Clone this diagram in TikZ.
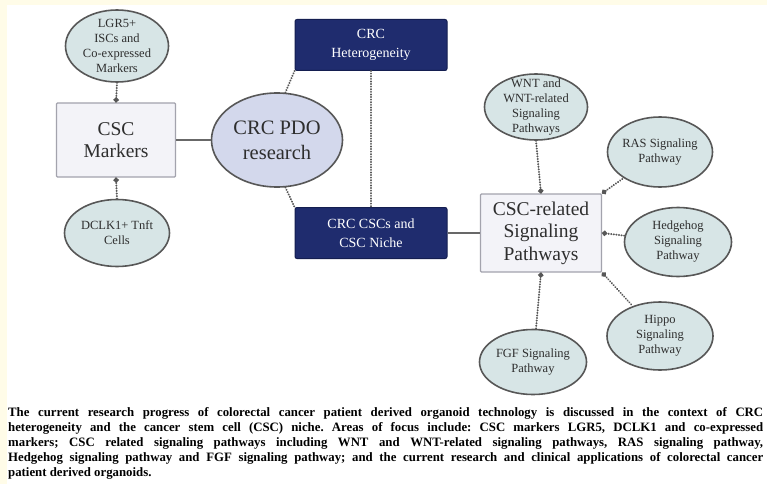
\documentclass[tikz,border=0pt]{standalone}
\usepackage{fontspec}
\setmainfont{Liberation Serif}
\usepackage{xcolor}
\usepackage{tikz}
\usetikzlibrary{shapes.geometric,arrows.meta}
\definecolor{cream}{HTML}{FFFCE8}
\definecolor{pathfill}{HTML}{D7E5E6}
\definecolor{hubfill}{HTML}{D3D8EC}
\definecolor{boxfill}{HTML}{F3F3F8}
\definecolor{boxedge}{HTML}{A3A3AD}
\definecolor{navy}{HTML}{1F2C6E}
\definecolor{navydark}{HTML}{141E50}
\definecolor{edgegray}{HTML}{575757}
\definecolor{inkgray}{HTML}{2E2E2E}
\frenchspacing

\tikzset{
  pathway/.style={ellipse, draw=edgegray, line width=1.6pt, fill=pathfill,
    minimum width=105pt, minimum height=68pt, inner sep=0pt,
    label={[font=\fontsize{12.5}{15}\selectfont, text=inkgray, align=center]center:#1}},
  topicbox/.style={draw=boxedge, line width=1.2pt, fill=boxfill, rounded corners=1pt,
    inner sep=0pt, text=inkgray, align=center, font=\fontsize{19.5}{22.5}\selectfont},
  focusbox/.style={draw=navydark, line width=1pt, fill=navy, rounded corners=2pt,
    minimum width=152pt, minimum height=51pt, inner sep=0pt, text=white, align=center,
    font=\fontsize{14}{19}\selectfont},
  dotlink/.style={draw=edgegray, line width=2.1pt, line cap=round, dash pattern=on 0.1pt off 2.5pt},
  solidlink/.style={draw=edgegray!90, line width=1.6pt},
  dotend/.style={-{Circle[length=5pt]}},
  dotstart/.style={{Circle[length=5pt]}-},
}

\begin{document}
\begin{tikzpicture}[x=1pt, y=-1pt]
  \useasboundingbox (0,0) rectangle (767,484);
  \clip (0,0) rectangle (767,484);
  \fill[cream] (0,0) rectangle (767,484);
  \fill[white] (7,5) rectangle (767,484);

  % left branch
  \node[pathway={LGR5+\\ISCs and\\Co-expressed\\Markers}, minimum width=103pt, minimum height=72pt] (lgr) at (117,46) {};
  \node[topicbox, minimum width=119pt, minimum height=74pt] (markers) at (116,140) {CSC\\Markers};
  \node[pathway={DCLK1+ Tnft\\Cells}, minimum height=67pt] (dclk) at (117,233) {};

  % centre
  \node[ellipse, draw=edgegray, line width=1.6pt, fill=hubfill, minimum width=131pt, minimum height=94pt,
        inner sep=0pt, text=inkgray, align=center, font=\fontsize{20.5}{25}\selectfont] (pdo) at (277,140) {CRC PDO\\research};
  \node[focusbox] (hetero) at (371,45) {CRC\\Heterogeneity};
  \node[focusbox] (niche) at (371,233) {CRC CSCs and\\CSC Niche};

  % right branch
  \node[topicbox, minimum width=121pt, minimum height=78pt] (signal) at (541,233) {CSC-related\\Signaling\\Pathways};
  \node[pathway={WNT and\\WNT-related\\Signaling\\Pathways}, minimum width=103pt, minimum height=66pt] (wnt) at (536,107) {};
  \node[pathway={RAS Signaling\\Pathway}, minimum height=70pt] (ras) at (660,152) {};
  \node[pathway={Hedgehog\\Signaling\\Pathway}, minimum width=107pt, minimum height=69pt] (hedge) at (678,242) {};
  \node[pathway={Hippo\\Signaling\\Pathway}, minimum width=106pt] (hippo) at (660,336) {};
  \node[pathway={FGF Signaling\\Pathway}, minimum width=107pt, minimum height=65pt] (fgf) at (533,362) {};

  % connectors
  \draw[dotlink, dotend] (lgr.south) -- (markers.north);
  \draw[dotlink, dotend] (dclk.north) -- (markers.south);
  \draw[solidlink] (markers.east) -- (pdo.west);
  \draw[dotlink] (pdo.80) -- (hetero.south west);
  \draw[dotlink] (pdo.-80) -- (niche.north west);
  \draw[dotlink] (hetero.south) -- (niche.north);
  \draw[solidlink] (niche.east) -- (signal.west);
  \draw[dotlink, dotend] (wnt.south) -- (signal.north);
  \draw[dotlink, dotstart] (signal.north east) -- (ras);
  \draw[dotlink, dotstart] (signal.east) -- (hedge);
  \draw[dotlink, dotstart] (signal.south east) -- (hippo);
  \draw[dotlink, dotstart] (signal.south) -- (fgf);

  % caption
  \node[anchor=north west, inner sep=0pt, text width=755pt, align=justify,
        font=\fontsize{12.8}{15}\selectfont\bfseries] (caption) at (8,407)
    {The current research progress of colorectal cancer patient derived organoid technology is discussed in the context of CRC\linebreak
     heterogeneity and the cancer stem cell (CSC) niche. Areas of focus include: CSC markers LGR5, DCLK1 and co-expressed\linebreak
     markers; CSC related signaling pathways including WNT and WNT-related signaling pathways, RAS signaling pathway,\linebreak
     Hedgehog signaling pathway and FGF signaling pathway; and the current research and clinical applications of colorectal cancer\linebreak
     patient derived organoids.};
\end{tikzpicture}
\end{document}
